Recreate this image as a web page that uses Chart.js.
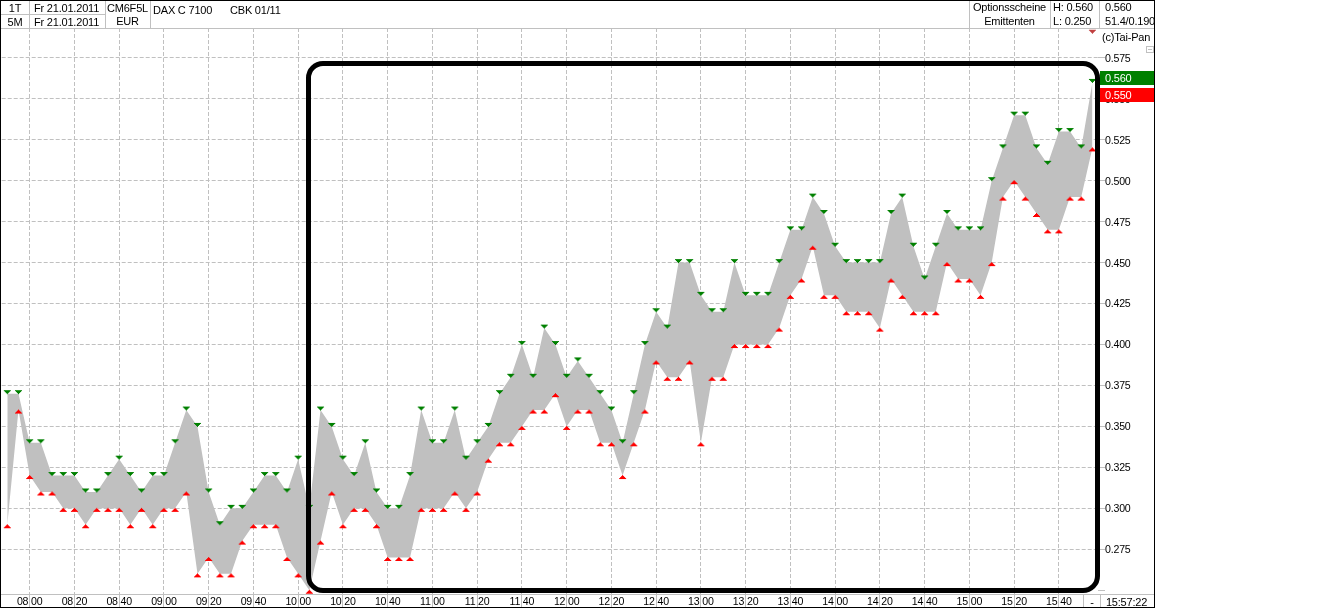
<!DOCTYPE html>
<html>
<head>
<meta charset="utf-8">
<title>DAX C 7100</title>
<script src="https://cdn.jsdelivr.net/npm/chart.js@4/dist/chart.umd.js"></script>
<style>
    html, body { margin: 0; padding: 0; background: #fff; }
    #wrap { position: relative; width: 1323px; height: 609px; overflow: hidden; font: 11px "Liberation Sans", Arial, sans-serif; letter-spacing: -0.2px; color: #000; }
    #chart { position: absolute; left: 0; top: 0; }
    .t { position: absolute; white-space: nowrap; line-height: 14px; height: 14px; }
    .c { text-align: center; }
    .v { position: absolute; width: 1px; background: #c0c0c0; }
    .h { position: absolute; height: 1px; background: #c0c0c0; }
    #frame { position: absolute; left: 0; top: 0; width: 1153px; height: 606px; border: 1px solid #000; }
    #box { position: absolute; left: 306px; top: 61px; width: 784px; height: 522px; border: 5px solid #000; border-radius: 17px; }
    .badge { position: absolute; left: 1100px; width: 54px; height: 14px; line-height: 14px; color: #fff; text-indent: 5px; }
    #fold { position: absolute; left: 1146px; top: 46px; width: 6px; height: 5px; border: 1px solid #c0c0c0; background: linear-gradient(#c0c0c0, #c0c0c0) center / 4px 1px no-repeat; }
</style>
</head>
<body>
<div id="wrap">
    <canvas id="chart" width="1323" height="609"></canvas>

    <div class="h" style="left:0;top:28px;width:1155px"></div>
    <div class="h" style="left:0;top:14px;width:105px"></div>
    <div class="h" style="left:0;top:594px;width:1155px"></div>
    <div class="v" style="left:29px;top:0;height:28px"></div>
    <div class="v" style="left:105px;top:0;height:28px"></div>
    <div class="v" style="left:150px;top:0;height:28px"></div>
    <div class="v" style="left:969px;top:0;height:28px"></div>
    <div class="v" style="left:1050px;top:0;height:28px"></div>
    <div class="v" style="left:1099px;top:0;height:28px"></div>
    <div class="v" style="left:1083px;top:594px;height:14px"></div>
    <div class="v" style="left:1100px;top:594px;height:14px"></div>

    <div class="t c" style="left:1px;top:1px;width:28px">1T</div>
    <div class="t c" style="left:1px;top:15px;width:28px">5M</div>
    <div class="t" style="left:34px;top:1px">Fr 21.01.2011</div>
    <div class="t" style="left:34px;top:15px">Fr 21.01.2011</div>
    <div class="t c" style="left:105px;top:1px;width:45px">CM6F5L</div>
    <div class="t c" style="left:105px;top:14px;width:45px">EUR</div>
    <div class="t" style="left:153px;top:3px">DAX C 7100</div>
    <div class="t" style="left:230px;top:3px">CBK 01/11</div>
    <div class="t c" style="left:969px;top:0;width:81px">Optionsscheine</div>
    <div class="t c" style="left:969px;top:14px;width:81px">Emittenten</div>
    <div class="t" style="left:1053px;top:0">H: 0.560</div>
    <div class="t" style="left:1053px;top:14px">L: 0.250</div>
    <div class="t" style="left:1105px;top:0">0.560</div>
    <div class="t" style="left:1105px;top:14px;width:49px;overflow:hidden">51.4/0.190</div>
    <div class="t" style="left:1102px;top:30px">(c)Tai-Pan</div>
    <div id="fold"></div>

    <div class="badge" style="top:71px;background:#008000">0.560</div>
    <div class="badge" style="top:88px;background:#ff0000">0.550</div>

    <div class="t c" style="left:1084px;top:595px;width:16px">-</div>
    <div class="t c" style="left:1100px;top:595px;width:53px">15:57:22</div>

    <div id="box"></div>
    <div id="frame"></div>
</div>

<script>
// 5 minute bars, 21.01.2011
const categories = [
    '07:50', '07:55', '08:00', '08:05', '08:10', '08:15', '08:20', '08:25', '08:30', '08:35',
    '08:40', '08:45', '08:50', '08:55', '09:00', '09:05', '09:10', '09:15', '09:20', '09:25',
    '09:30', '09:35', '09:40', '09:45', '09:50', '09:55', '10:00', '10:05', '10:10', '10:15',
    '10:20', '10:25', '10:30', '10:35', '10:40', '10:45', '10:50', '10:55', '11:00', '11:05',
    '11:10', '11:15', '11:20', '11:25', '11:30', '11:35', '11:40', '11:45', '11:50', '11:55',
    '12:00', '12:05', '12:10', '12:15', '12:20', '12:25', '12:30', '12:35', '12:40', '12:45',
    '12:50', '12:55', '13:00', '13:05', '13:10', '13:15', '13:20', '13:25', '13:30', '13:35',
    '13:40', '13:45', '13:50', '13:55', '14:00', '14:05', '14:10', '14:15', '14:20', '14:25',
    '14:30', '14:35', '14:40', '14:45', '14:50', '14:55', '15:00', '15:05', '15:10', '15:15',
    '15:20', '15:25', '15:30', '15:35', '15:40', '15:45', '15:50', '15:55'
];

const highs = [
    0.37, 0.37, 0.34, 0.34, 0.32, 0.32, 0.32, 0.31, 0.31, 0.32,
    0.33, 0.32, 0.31, 0.32, 0.32, 0.34, 0.36, 0.35, 0.31, 0.29,
    0.30, 0.30, 0.31, 0.32, 0.32, 0.31, 0.33, 0.30, 0.36, 0.35,
    0.33, 0.32, 0.34, 0.31, 0.30, 0.30, 0.32, 0.36, 0.34, 0.34,
    0.36, 0.33, 0.34, 0.35, 0.37, 0.38, 0.40, 0.38, 0.41, 0.40,
    0.38, 0.39, 0.38, 0.37, 0.36, 0.34, 0.37, 0.40, 0.42, 0.41,
    0.45, 0.45, 0.43, 0.42, 0.42, 0.45, 0.43, 0.43, 0.43, 0.45,
    0.47, 0.47, 0.49, 0.48, 0.46, 0.45, 0.45, 0.45, 0.45, 0.48,
    0.49, 0.46, 0.44, 0.46, 0.48, 0.47, 0.47, 0.47, 0.50, 0.52,
    0.54, 0.54, 0.52, 0.51, 0.53, 0.53, 0.52, 0.56
];

const lows = [
    0.29, 0.36, 0.32, 0.31, 0.31, 0.30, 0.30, 0.29, 0.30, 0.30,
    0.30, 0.29, 0.30, 0.29, 0.30, 0.30, 0.31, 0.26, 0.27, 0.26,
    0.26, 0.28, 0.29, 0.29, 0.29, 0.27, 0.26, 0.25, 0.28, 0.31,
    0.29, 0.30, 0.30, 0.29, 0.27, 0.27, 0.27, 0.30, 0.30, 0.30,
    0.31, 0.30, 0.31, 0.33, 0.34, 0.34, 0.35, 0.36, 0.36, 0.37,
    0.35, 0.36, 0.36, 0.34, 0.34, 0.32, 0.34, 0.36, 0.39, 0.38,
    0.38, 0.39, 0.34, 0.38, 0.38, 0.40, 0.40, 0.40, 0.40, 0.41,
    0.43, 0.44, 0.46, 0.43, 0.43, 0.42, 0.42, 0.42, 0.41, 0.44,
    0.43, 0.42, 0.42, 0.42, 0.45, 0.44, 0.44, 0.43, 0.45, 0.49,
    0.50, 0.49, 0.48, 0.47, 0.47, 0.49, 0.49, 0.52
];

// off-scale marker at the top of the last bar
const lastMarkIndex = 97;
const lastMarkValue = 0.590;

const tickTimes = [
    '08:00', '08:20', '08:40', '09:00', '09:20', '09:40', '10:00', '10:20', '10:40', '11:00',
    '11:20', '11:40', '12:00', '12:20', '12:40', '13:00', '13:20', '13:40', '14:00', '14:20',
    '14:40', '15:00', '15:20', '15:40'
];

// marker sits entirely on one side of its value, so the image is padded to keep the tip centred
function makeMarker(color, pointsUp) {
    const c = document.createElement('canvas');
    c.width = 9;
    c.height = 9;
    const g = c.getContext('2d');
    g.fillStyle = color;
    for (let r = 0; r < 4; r++) {
        // stepped rows 1, 3, 5, 7 pixels wide counted from the tip
        g.fillRect(4 - r, pointsUp ? 4 + r : 4 - r, 2 * r + 1, 1);
    }
    return c;
}

const GRID = '#c0c0c0';
const FILL = '#c0c0c0';

new Chart(document.getElementById('chart').getContext('2d'), {
    type: 'line',
    data: {
        labels: categories,
        datasets: [
            {
                label: 'High',
                data: highs,
                borderWidth: 0,
                backgroundColor: FILL,
                fill: '+1',
                tension: 0,
                pointStyle: makeMarker('#008000', false),
                pointRadius: 4,
                clip: false
            },
            {
                label: 'Low',
                data: lows,
                borderWidth: 0,
                fill: false,
                tension: 0,
                pointStyle: makeMarker('#ff0000', true),
                pointRadius: 4,
                clip: false
            },
            {
                label: 'Last',
                data: categories.map((_, i) => (i === lastMarkIndex ? lastMarkValue : null)),
                showLine: false,
                fill: false,
                pointStyle: makeMarker('#c04040', false),
                pointRadius: 4,
                clip: false
            }
        ]
    },
    options: {
        responsive: false,
        animation: false,
        events: [],
        layout: { autoPadding: false, padding: { left: 1.7, top: 28, right: 0, bottom: 0 } },
        plugins: {
            legend: { display: false },
            tooltip: { enabled: false },
            // fill goes under all markers, not just those of its own dataset
            filler: { drawTime: 'beforeDatasetsDraw' }
        },
        scales: {
            x: {
                offset: true,
                afterBuildTicks: axis => {
                    axis.ticks = axis.ticks.filter(t => tickTimes.includes(categories[t.value]));
                },
                afterFit: axis => {
                    axis.height = 15;
                    axis.paddingLeft = 0;
                    axis.paddingRight = 0;
                },
                border: { display: false, dash: [4, 2] },
                grid: {
                    color: GRID,
                    tickBorderDash: [],
                    tickColor: GRID,
                    tickLength: 14,
                    offset: false
                },
                ticks: {
                    autoSkip: false,
                    maxRotation: 0,
                    padding: -12,
                    color: '#000',
                    font: { family: '"Liberation Sans"', size: 10.6 },
                    callback: function (value) {
                        return categories[value].replace(':', ' ');
                    }
                }
            },
            y: {
                position: 'right',
                min: 0.2477,
                max: 0.5932,
                afterFit: axis => { axis.width = 225; },
                border: { display: false, dash: [4, 2] },
                grid: {
                    // the 0.250 line keeps only its tick stub
                    color: c => (c.tick && c.tick.value < 0.26 ? 'rgba(0,0,0,0)' : GRID),
                    tickBorderDash: [],
                    tickColor: GRID,
                    tickLength: 7
                },
                ticks: {
                    stepSize: 0.025,
                    includeBounds: false,
                    padding: 0,
                    labelOffset: 1,
                    color: '#000',
                    font: { family: '"Liberation Sans"', size: 10.6 },
                    callback: function (value) {
                        return value < 0.26 ? '' : value.toFixed(3);
                    }
                }
            }
        }
    }
});
</script>
</body>
</html>
